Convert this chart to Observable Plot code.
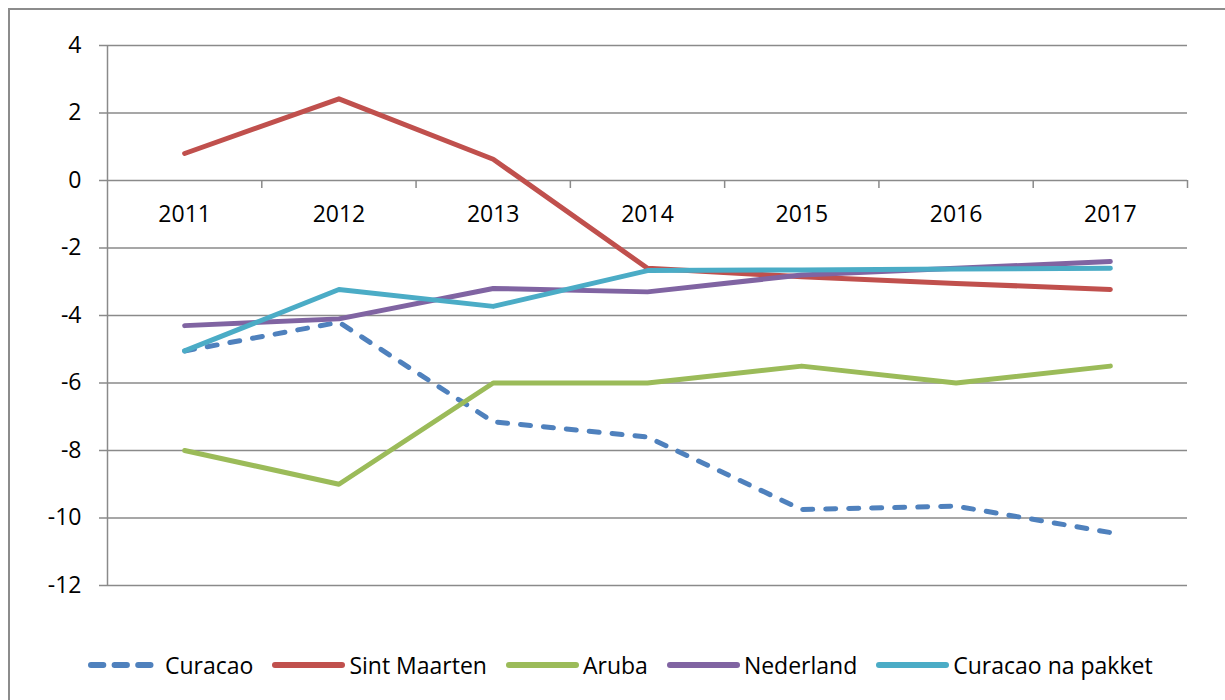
<!DOCTYPE html>
<html>
<head>
<meta charset="utf-8">
<script src="https://cdn.jsdelivr.net/npm/d3@7"></script>
<script src="https://cdn.jsdelivr.net/npm/@observablehq/plot@0.6"></script>
<style>
  html, body { margin: 0; padding: 0; background: #fff; overflow: hidden; width: 1225px; height: 700px; }
  #frame { position: absolute; left: 8px; top: 8px; width: 1240px; height: 720px; border: 2px solid #8c8c8c; box-sizing: border-box; }
  #chart { position: absolute; left: 0; top: 0; }
  #legend { position: absolute; left: 88px; top: 649px; display: flex; align-items: center; gap: 19px;
            font-family: "Open Sans", sans-serif; font-size: 23px; line-height: 32px; color: #000; white-space: nowrap; }
  .item { display: flex; align-items: center; gap: 4px; }
  .item svg { display: block; }
</style>
</head>
<body>
<div id="frame"></div>
<div id="chart"></div>
<div id="legend"></div>
<script>
const years = [2011, 2012, 2013, 2014, 2015, 2016, 2017];
const seriesNames = ["Curacao", "Sint Maarten", "Aruba", "Nederland", "Curacao na pakket"];
const colors = ["#4F81BD", "#C0504D", "#9BBB59", "#8064A2", "#4BACC6"];
const curacao = [-5.05, -4.2, -7.15, -7.6, -9.75, -9.65, -10.43];
const sintMaarten = [0.8, 2.42, 0.63, -2.6, -2.85, -3.05, -3.23];
const aruba = [-8, -9, -6, -6, -5.5, -6, -5.5];
const nederland = [-4.3, -4.1, -3.2, -3.3, -2.8, -2.6, -2.4];
const curacaoPakket = [-5.05, -3.23, -3.73, -2.67, -2.65, -2.62, -2.6];
const yTicks = [-12, -10, -8, -6, -4, -2, 0, 2, 4];

const seriesValues = [curacao, sintMaarten, aruba, nederland, curacaoPakket];
const data = seriesNames.flatMap((s, i) => years.map((y, j) => ({series: s, year: y, value: seriesValues[i][j]})));
const xMin = years[0] - 0.5, xMax = years[years.length - 1] + 0.5;
const boundaries = years.map(y => y + 0.5);
const grid = "#8a8a8a";
const font = "Open Sans, sans-serif";

const lineMarks = seriesNames.map((s, i) => Plot.line(data.filter(d => d.series === s), {
  x: "year", y: "value", stroke: colors[i], strokeWidth: 5,
  strokeLinecap: "round", strokeLinejoin: "round",
  strokeDasharray: i === 0 ? "10,13" : null
}));

const chart = Plot.plot({
  width: 1225,
  height: 600,
  marginLeft: 107,
  marginRight: 38,
  marginTop: 45,
  marginBottom: 15,
  style: {background: "transparent", fontFamily: font},
  x: {type: "linear", domain: [xMin, xMax], axis: null},
  y: {domain: [-12, 4], axis: null},
  marks: [
    Plot.ruleY(yTicks, {x1: xMin, x2: xMax, insetLeft: -8, stroke: grid, strokeWidth: 1.5}),
    Plot.ruleX([xMin], {y1: -12, y2: 4, stroke: grid, strokeWidth: 1.5}),
    Plot.ruleX(boundaries, {y1: 0, y2: 0, insetBottom: -8, stroke: grid, strokeWidth: 1.5}),
    Plot.axisY({ticks: yTicks, tickSize: 0, tickPadding: 26, fontSize: 23, label: null,
                tickFormat: d => String(d), fill: "#000"}),
    Plot.text(years, {x: d => d, y: 0, dy: 34, text: d => String(d), fontSize: 23, fill: "#000"}),
    ...lineMarks
  ]
});
document.getElementById("chart").appendChild(chart);

const legend = document.getElementById("legend");
seriesNames.forEach((s, i) => {
  const item = document.createElement("div");
  item.className = "item";
  item.innerHTML = `<svg width="73" height="12"><line x1="3" y1="6" x2="70" y2="6" stroke="${colors[i]}" stroke-width="6" stroke-linecap="round" ${i === 0 ? 'stroke-dasharray="12.3,11.3"' : ''}/></svg><span>${s}</span>`;
  legend.appendChild(item);
});
</script>
</body>
</html>
